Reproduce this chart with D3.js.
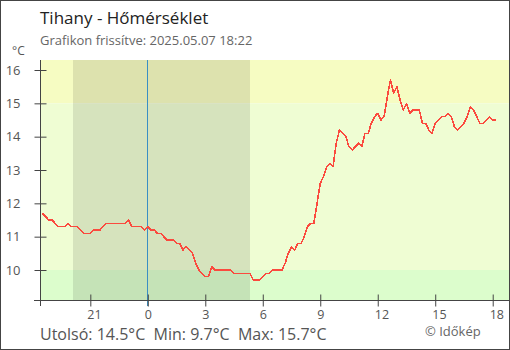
<!DOCTYPE html>
<html>
<head>
<meta charset="utf-8">
<script src="https://cdn.jsdelivr.net/npm/d3@7"></script>
<style>
  body { margin: 0; background: #fff; }
  svg { display: block; font-family: "Open Sans", sans-serif; }
</style>
</head>
<body>
<svg id="chart" width="510" height="350"></svg>
<script>
// Station and update info
const station = "Tihany";
const quantity = "Hőmérséklet";
const updatedAt = "2025.05.07 18:22";
const credit = "© Időkép";

// Temperature series (°C), one reading every 10 minutes from seriesStart
const seriesStart = "2025-05-06T18:30:00";
const stepMinutes = 10;
const temps = [
  11.7, 11.6, 11.5, 11.5, 11.4, 11.3, 11.3, 11.3, 11.4, 11.3, 11.3, 11.3, // 18:30-20:20
  11.2, 11.1, 11.1, 11.1, 11.2, 11.2, 11.2, 11.3, 11.4, 11.4, 11.4, 11.4, // 20:30-22:20
  11.4, 11.4, 11.4, 11.5, 11.3, 11.3, 11.3, 11.3, 11.2, 11.3, 11.2, 11.2, // 22:30-00:20
  11.1, 11.1, 11.0, 10.9, 10.9, 10.9, 10.8, 10.8, 10.6, 10.7, 10.6, 10.5, // 00:30-02:20
  10.2, 10.0, 9.9, 9.8, 9.8, 10.1, 10.0, 10.0, 10.0, 10.0, 10.0, 10.0,    // 02:30-04:20
  9.9, 9.9, 9.9, 9.9, 9.9, 9.9, 9.7, 9.7, 9.7, 9.8, 9.9, 9.9,             // 04:30-06:20
  10.0, 10.0, 10.0, 10.0, 10.2, 10.5, 10.7, 10.6, 10.8, 10.8, 11.0, 11.3, // 06:30-08:20
  11.4, 11.4, 12.0, 12.6, 12.8, 13.1, 13.2, 13.1, 13.8, 14.2, 14.1, 14.0, // 08:30-10:20
  13.7, 13.6, 13.7, 13.8, 13.7, 14.1, 14.1, 14.4, 14.6, 14.7, 14.5, 14.6, // 10:30-12:20
  15.2, 15.7, 15.3, 15.5, 15.1, 14.8, 15.0, 14.7, 14.8, 14.8, 14.8, 14.4, // 12:30-14:20
  14.4, 14.2, 14.1, 14.4, 14.5, 14.6, 14.6, 14.7, 14.6, 14.3, 14.2, 14.3, // 14:30-16:20
  14.4, 14.6, 14.9, 14.8, 14.6, 14.4, 14.4, 14.5, 14.6, 14.5, 14.5        // 16:30-18:10
];

// Axis ticks and chart window
const yTicks = [10, 11, 12, 13, 14, 15, 16];
const yExtent = [9.1, 16.3];
const timeWindow = ["2025-05-06T18:24:00", "2025-05-07T18:51:00"];
const midnight = "2025-05-07T00:00:00";
const night = ["2025-05-06T20:06:00", "2025-05-07T05:21:00"];

// Temperature bands: edges from top to bottom, one colour per band
const bandEdges = [16.3, 15, 10, 9.1];
const bandColors = ["#f6fcc2", "#effdd3", "#dcfdcc"];

const parse = d3.isoParse;
const data = temps.map((t, i) => ({
  time: d3.timeMinute.offset(parse(seriesStart), i * stepMinutes),
  temp: t
}));

const svg = d3.select("#chart");
const W = 510, H = 350;
const plot = { left: 40.5, right: 509, top: 60, bottom: 300 };

const x = d3.scaleTime()
  .domain(timeWindow.map(parse))
  .range([plot.left, plot.right]);
const y = d3.scaleLinear()
  .domain(yExtent)
  .range([plot.bottom, plot.top]);

// Background bands
svg.append("g").selectAll("rect")
  .data(d3.pairs(bandEdges).map((p, i) => ({ hi: p[0], lo: p[1], color: bandColors[i] })))
  .join("rect")
  .attr("x", plot.left)
  .attr("width", plot.right - plot.left)
  .attr("y", d => y(d.hi))
  .attr("height", d => y(d.lo) - y(d.hi))
  .attr("fill", d => d.color);

// Night shading
const n0 = Math.round(x(parse(night[0]))), n1 = Math.round(x(parse(night[1])));
svg.append("rect")
  .attr("x", n0).attr("width", n1 - n0)
  .attr("y", plot.top).attr("height", plot.bottom - plot.top)
  .attr("fill", "#000").attr("fill-opacity", 0.1);

// Midnight marker
const mx = Math.round(x(parse(midnight))) - 0.5;
svg.append("line")
  .attr("x1", mx).attr("x2", mx)
  .attr("y1", plot.top).attr("y2", plot.bottom + 6)
  .attr("stroke", "#3a8fc4").attr("stroke-width", 1);

// Temperature line
svg.append("path")
  .datum(data)
  .attr("fill", "none")
  .attr("stroke", "#fb4a3e")
  .attr("stroke-width", 1.6)
  .attr("stroke-linejoin", "round")
  .attr("shape-rendering", "crispEdges")
  .attr("d", d3.line().x(d => x(d.time)).y(d => y(d.temp)));

const axisColor = "#444";
const labelColor = "#555";

// Y axis
const yAxis = svg.append("g")
  .attr("transform", `translate(${plot.left},0)`)
  .call(d3.axisLeft(y).tickValues(yTicks).tickSize(6).tickPadding(14).tickFormat(d3.format("d")));
yAxis.select(".domain").remove();
yAxis.selectAll(".tick line").attr("x1", 6).attr("x2", -6).attr("stroke", axisColor);
yAxis.selectAll(".tick text")
  .attr("fill", labelColor)
  .style("font-size", "13px")
  .style("font-family", "'Open Sans', sans-serif");

// X axis
const xAxis = svg.append("g")
  .attr("transform", `translate(0,${plot.bottom + 0.5})`)
  .call(d3.axisBottom(x).ticks(d3.timeHour.every(3)).tickSize(6).tickFormat(d3.timeFormat("%-H")));
xAxis.select(".domain").remove();
xAxis.selectAll(".tick line").attr("y1", -6).attr("y2", 6).attr("stroke", axisColor);
xAxis.selectAll(".tick text")
  .attr("fill", labelColor)
  .attr("text-anchor", "start")
  .attr("x", -3.5)
  .attr("y", 18.5)
  .attr("dy", null)
  .style("font-size", "12.5px")
  .style("font-family", "'Open Sans', sans-serif");

// Axis lines
svg.append("line")
  .attr("x1", plot.left).attr("x2", plot.left)
  .attr("y1", plot.top).attr("y2", plot.bottom + 6)
  .attr("stroke", axisColor);
svg.append("line")
  .attr("x1", plot.left - 6.5).attr("x2", plot.right)
  .attr("y1", plot.bottom + 0.5).attr("y2", plot.bottom + 0.5)
  .attr("stroke", axisColor);

// Titles
svg.append("text")
  .attr("x", 40).attr("y", 24)
  .attr("fill", "#222")
  .style("font-size", "17px")
  .text(`${station} - ${quantity}`);
svg.append("text")
  .attr("x", 40).attr("y", 45)
  .attr("fill", "#666")
  .style("font-size", "13px")
  .text(`Grafikon frissítve: ${updatedAt}`);
svg.append("text")
  .attr("x", 12).attr("y", 55)
  .attr("fill", labelColor)
  .style("font-size", "12px")
  .text("°C");

// Summary line
const fmt = d3.format(".1f");
const last = temps[temps.length - 1];
svg.append("text")
  .attr("x", 40).attr("y", 340)
  .attr("fill", labelColor)
  .style("font-size", "16px")
  .style("white-space", "pre")
  .text(`Utolsó: ${fmt(last)}°C  Min: ${fmt(d3.min(temps))}°C  Max: ${fmt(d3.max(temps))}°C`);
svg.append("text")
  .attr("x", 425).attr("y", 336)
  .attr("fill", "#666")
  .style("font-size", "13px")
  .text(credit);

// Frame
svg.append("rect")
  .attr("x", 0.5).attr("y", 0.5)
  .attr("width", W - 1).attr("height", H - 1)
  .attr("fill", "none")
  .attr("stroke", axisColor);
</script>
</body>
</html>
